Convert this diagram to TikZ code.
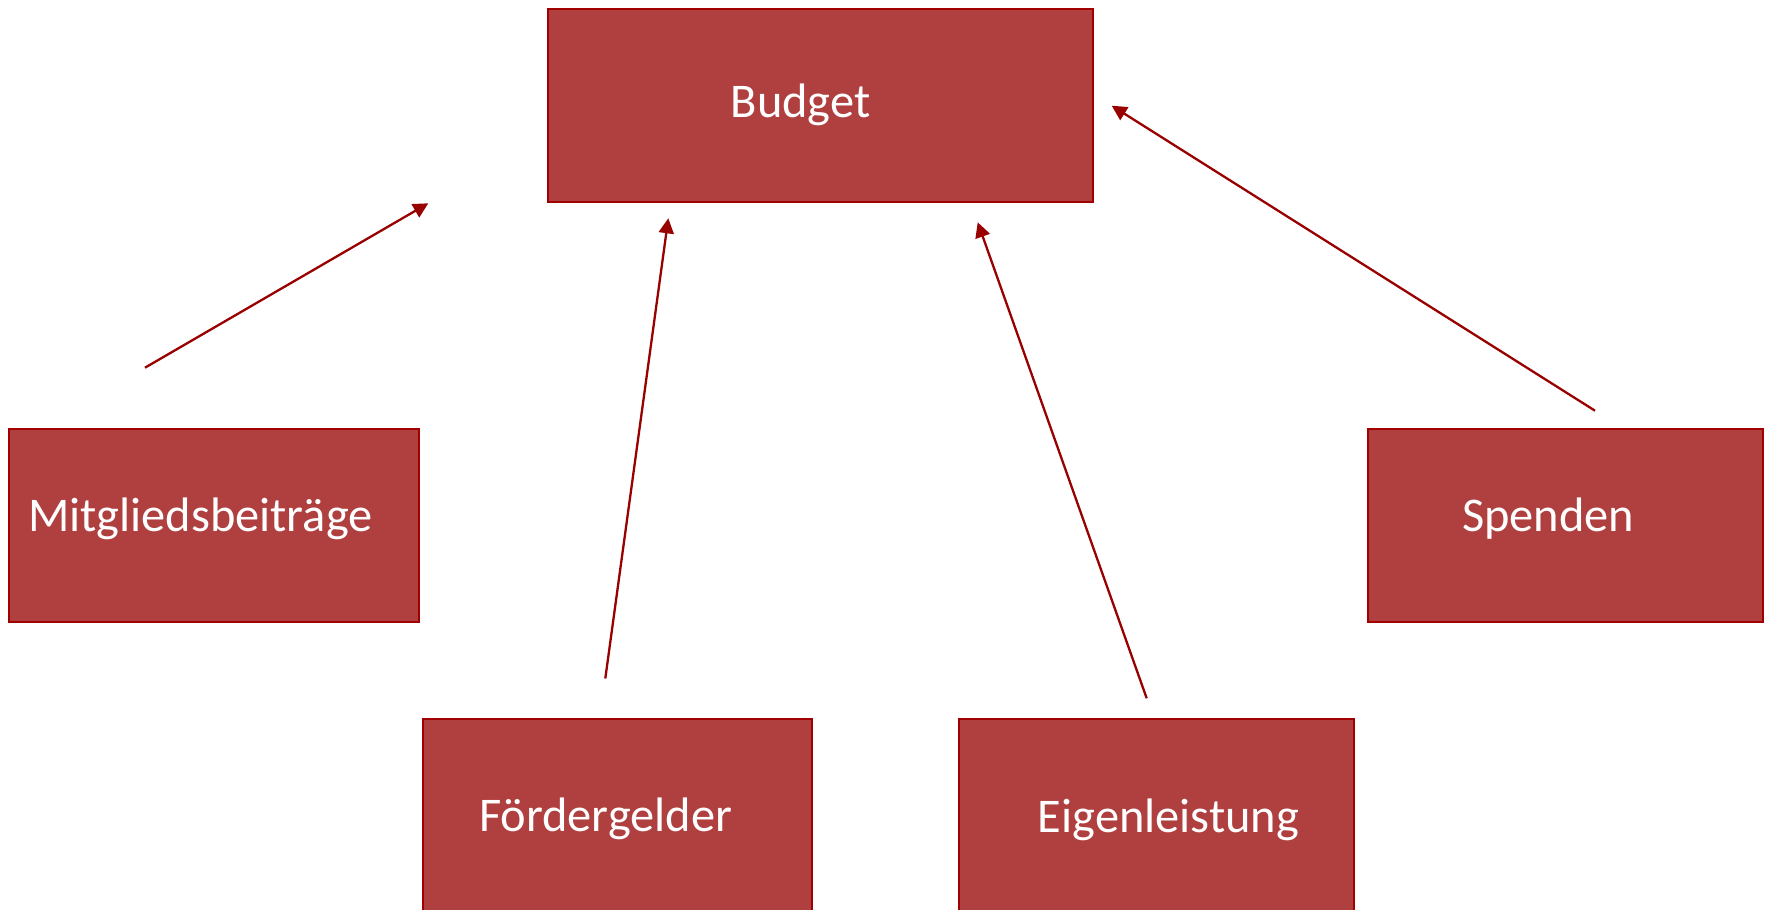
\documentclass[tikz,border=0pt]{standalone}
\usepackage{fontspec}
\setmainfont{Carlito}
\usetikzlibrary{arrows.meta}
\definecolor{boxfill}{RGB}{176,64,64}
\definecolor{boxline}{RGB}{160,0,0}
\definecolor{arrowcol}{RGB}{153,0,0}
\begin{document}
\begin{tikzpicture}[x=0.5pt,y=-0.5pt,
  box/.style={draw=boxline,fill=boxfill,line width=1pt,inner sep=0pt,outer sep=0pt,rectangle},
  lbl/.style={text=white,anchor=base,inner sep=0pt,font=\fontsize{24.2}{29}\selectfont},
  flow/.style={draw=arrowcol,line width=1.15pt,-{Triangle[length=7.5pt,width=7.5pt]}}]
\useasboundingbox (0,0) rectangle (1769,910);
\fill[white] (0,0) rectangle (1769,910);
% boxes
\node[box,minimum width=272.5pt,minimum height=96.25pt] (budget) at (820.5,105.25) {};
\node[box,minimum width=205pt,minimum height=96.35pt] (mitglied) at (214,525.35) {};
\node[box,minimum width=197.5pt,minimum height=96.35pt] (spenden) at (1565,525.35) {};
\node[box,minimum width=194.5pt,minimum height=96.35pt] (foerder) at (617.2,815.65) {};
\node[box,minimum width=197.5pt,minimum height=96.35pt] (eigen) at (1156.8,815.65) {};
% labels
\node[lbl] (tbudget) at (800.5,117.3) {Budget};
\node[lbl] (tmitglied) at (200.3,531) {Mitgliedsbeiträge};
\node[lbl] (tspenden) at (1548.3,531.7) {Spenden};
\node[lbl] (tfoerder) at (605.5,831) {Fördergelder};
\node[lbl] (teigen) at (1168.5,832) {Eigenleistung};
% arrow end points
\coordinate (m1) at (145,367.7);  \coordinate (m2) at (428.3,203.3);
\coordinate (f1) at (605.3,678.5); \coordinate (f2) at (668.3,218.3);
\coordinate (e1) at (1146.7,698.3); \coordinate (e2) at (977.7,222.3);
\coordinate (s1) at (1595,410.7); \coordinate (s2) at (1111.7,105.7);
\draw[flow] (m1) -- (m2);
\draw[flow] (f1) -- (f2);
\draw[flow] (e1) -- (e2);
\draw[flow] (s1) -- (s2);
\end{tikzpicture}
\end{document}
